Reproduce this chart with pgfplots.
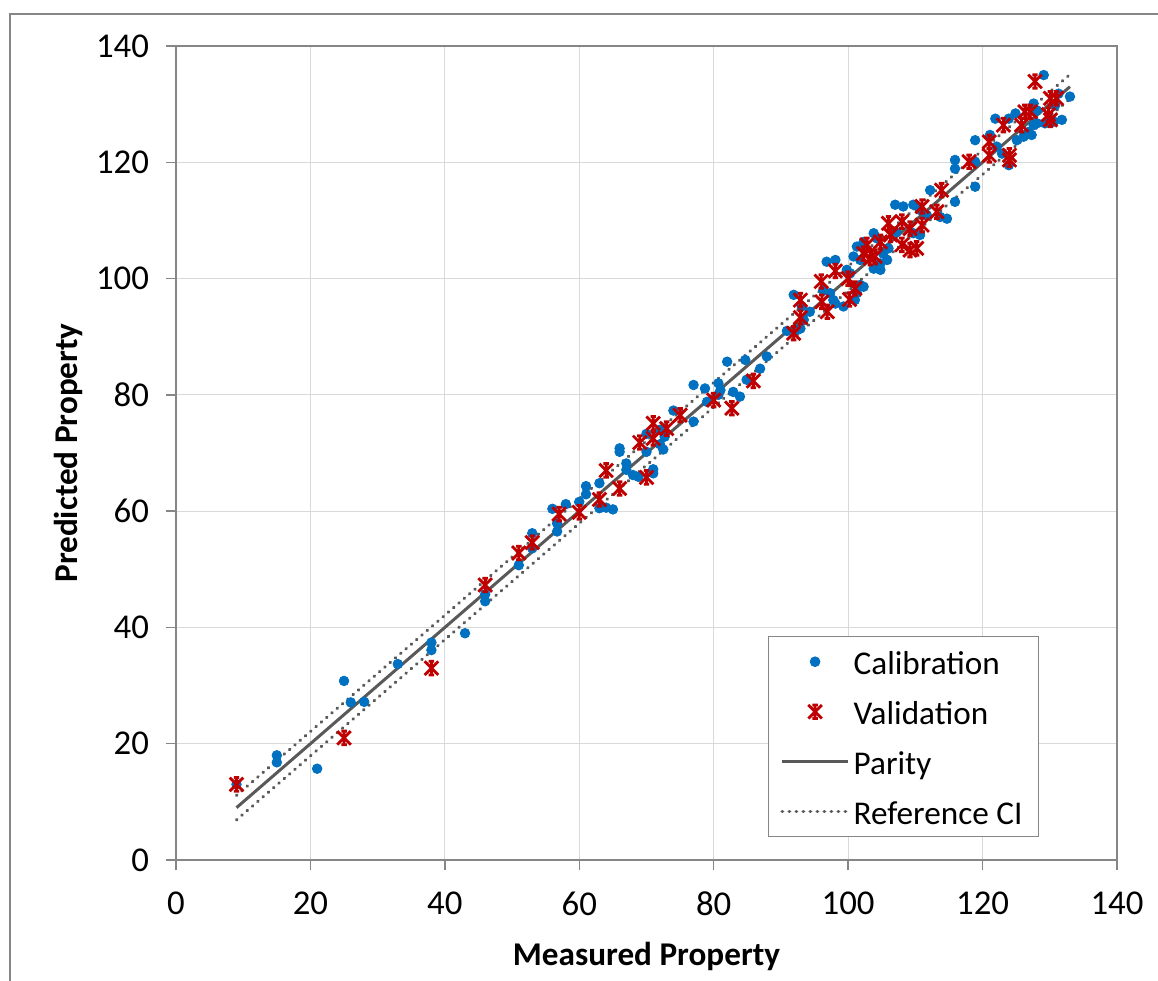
\documentclass[border=0pt]{standalone}
\usepackage{fontspec}
\setmainfont{Carlito}
\usepackage{pgfplots}
\pgfplotsset{compat=1.18}

\definecolor{calblue}{RGB}{0,112,192}
\definecolor{valred}{RGB}{192,0,0}
\definecolor{linegray}{RGB}{89,89,89}
\definecolor{gridgray}{RGB}{217,217,217}
\definecolor{axgray}{RGB}{134,134,134}

% Excel-like star marker: X with a vertical stroke and short caps
\pgfdeclareplotmark{xstar}{%
  \pgfpathmoveto{\pgfqpoint{-\pgfplotmarksize}{-\pgfplotmarksize}}%
  \pgfpathlineto{\pgfqpoint{\pgfplotmarksize}{\pgfplotmarksize}}%
  \pgfpathmoveto{\pgfqpoint{-\pgfplotmarksize}{\pgfplotmarksize}}%
  \pgfpathlineto{\pgfqpoint{\pgfplotmarksize}{-\pgfplotmarksize}}%
  \pgfpathmoveto{\pgfqpoint{0pt}{-\pgfplotmarksize}}%
  \pgfpathlineto{\pgfqpoint{0pt}{\pgfplotmarksize}}%
  \pgfpathmoveto{\pgfqpoint{-0.4\pgfplotmarksize}{\pgfplotmarksize}}%
  \pgfpathlineto{\pgfqpoint{0.4\pgfplotmarksize}{\pgfplotmarksize}}%
  \pgfpathmoveto{\pgfqpoint{-0.4\pgfplotmarksize}{-\pgfplotmarksize}}%
  \pgfpathlineto{\pgfqpoint{0.4\pgfplotmarksize}{-\pgfplotmarksize}}%
  \pgfusepathqstroke}

\newcommand{\chartfont}{\fontsize{16.6}{19.5}\selectfont}
\newcommand{\tickfont}{\fontsize{17.4}{20}\selectfont}

\begin{document}
\begin{tikzpicture}
\useasboundingbox (-88pt,-60.5pt) rectangle (491pt,430pt);
% chart area border (top and left only visible)
\draw[axgray, line width=1pt] (-83pt,-62pt) -- (-83pt,423pt) -- (492pt,423pt);

\begin{axis}[
  at={(0pt,0pt)}, anchor=south west,
  scale only axis, width=470.5pt, height=407pt,
  xmin=0, xmax=140, ymin=0, ymax=140,
  xtick={0,20,...,140}, ytick={0,20,...,140},
  grid=major,
  major grid style={gridgray, line width=0.5pt},
  axis line style={axgray, line width=0.75pt},
  tick align=outside, xtick pos=left, ytick pos=left,
  major tick length=5pt,
  tick style={axgray, line width=0.75pt},
  /pgf/number format/assume math mode=true,
  xticklabel={\pgfmathprintnumber{\tick}},
  yticklabel={\pgfmathprintnumber{\tick}},
  tick label style={font=\tickfont},
  xticklabel style={yshift=-7.5pt},
  yticklabel style={xshift=-5pt},
  label style={font=\chartfont\bfseries},
  xlabel={Measured Property},
  ylabel={Predicted Property},
  xlabel style={at={(axis description cs:0.5,-0.118)}, anchor=center},
  ylabel style={at={(axis description cs:-0.1148,0.5)}, anchor=center, rotate=0},
  legend style={at={(axis description cs:0.917,0.028)}, anchor=south east,
    draw=axgray, line width=0.5pt, font=\chartfont,
    inner xsep=6pt, inner ysep=0pt, row sep=0pt,
    nodes={inner ysep=0pt, text height=18.75pt, text depth=6.25pt}},
  legend cell align=left,
  legend image code/.code={\draw[mark repeat=2,mark phase=2,#1]
    plot coordinates {(0pt,0pt) (16.5pt,0pt) (33pt,0pt)};},
]

% Calibration
\addplot[only marks, mark=*, mark size=2.4pt, color=calblue] coordinates {
(9,13) (15,18.0) (15,16.8) (21,15.7) (25,30.8) (26,27.1) (28,27.2) (33,33.7)
(38,37.4) (38,36.1) (43,39.0) (46,45.7) (46,44.5) (51,50.7) (53,56.2) (53,53.6)
(56,60.4) (56.7,57.9) (56.7,56.5) (58,61.2) (60,61.6) (61,64.3) (61,62.9)
(63,64.8) (63,60.5) (64,60.6) (65,60.3) (66,70.8) (66,70.2) (67,68.2) (67,67.1)
(68,66.2) (68.8,65.9) (71,67.2) (71,66.5) (70,73.3) (70,70.2) (72,74) (72,71.5)
(72.5,70.6) (72.7,72.8) (74,77.3) (77,75.4) (77,81.7) (78.7,81.1) (79,78.8)
(80.7,82.0) (81,80.8) (80.7,80) (82,85.7) (84.7,86) (82.9,80.5) (83.9,79.7)
(84.9,82.6) (86.9,84.5) (87.9,86.6) (90.9,91.0) (92.4,91.2) (92.9,91.4)
(93.4,92.9) (94.3,94.3) (93.1,95.2) (91.9,97.2) (96.8,102.9) (98.1,103.2)
(97.3,97.5) (97.8,96.3) (98.1,95.7) (96.3,98.0) (100.3,100.9) (101.8,98.9)
(102.3,98.6) (101,96.3) (99.3,95.2) (101.3,97.5) (99.8,101.5) (100.8,103.8)
(101.8,103.2) (101.3,105.5) (102.3,106.3) (103.8,107.8) (104.3,106.9)
(104.8,102.6) (105.8,103.2) (105.2,104.3) (106,105.2) (103.8,101.7)
(104.8,101.5) (107,112.7) (108.2,112.4) (109.7,112.7) (110.7,111.8)
(111.7,110.9) (113.7,110.6) (114.7,110.3) (107.2,108) (109.7,107.8)
(110.7,107.5) (112.2,115.2) (115.9,113.2) (115.9,120.4) (115.9,118.9)
(118.9,120.1) (118.9,115.8) (118.9,123.8) (121.1,124.7) (122.1,122.7)
(122.9,121.5) (123.9,119.5) (121.9,127.5) (123.9,127.5) (124.9,128.4)
(125.1,123.8) (126.1,124.4) (126.8,125.2) (127.6,126.4) (128.1,126.7)
(129.1,135) (133,131.3) (131.8,127.3) (130.6,127) (129.3,126.7) (127.3,124.7)
(127.6,130.1) (128.1,128.9) (130.8,129.8) (131.3,131.8)
};
\addlegendentry{Calibration}

% Parity and reference CI lines
\addplot[forget plot, linegray, line width=1.5pt] coordinates {(9,9) (133,133)};
\addplot[forget plot, linegray, line width=1.6pt, line cap=round,
  dash pattern=on 0.3pt off 3.2pt] coordinates {(9,11.1) (133,135.1)};
\addplot[forget plot, linegray, line width=1.6pt, line cap=round,
  dash pattern=on 0.3pt off 3.2pt] coordinates {(9,6.9) (133,130.9)};

% Validation
\addplot[only marks, mark=xstar, mark size=3.4pt, color=valred,
  mark options={line width=1.4pt}] coordinates {
(9,13) (25,21) (38,33) (46,47.3) (51,52.8) (53,54.6) (57,59.5) (60,59.8)
(63,62) (64,67) (66,63.9) (70,65.8) (69,71.8) (71,75.1) (71,72.5) (73,74.2)
(75,76.5) (80,79.1) (82.7,77.7) (85.9,82.4) (91.9,90.6) (92.9,93.3)
(92.9,96.3) (96,99.5) (96.1,96) (96.9,94.3) (98.1,101.3) (100,100)
(100.2,96.4) (101,98.3) (103.3,103.5) (104,103.8) (102.8,105.8) (104.8,106.3)
(102.3,104.3) (108,105.8) (109.2,104.9) (110.2,105.2) (106,109.5) (108,109.8)
(109.2,108.6) (111,109.2) (106.3,107.5) (111,112.4) (113.2,111.5)
(113.9,115.2) (118,120.1) (121,123.5) (121,121.2) (123.1,126.4) (125.8,126.4)
(124,121.2) (124,120.4) (126.3,128.7) (127.1,128.7) (127.8,133.9) (130.1,131)
(131,131) (129.8,128.2) (130.1,127.3)
};
\addlegendentry{Validation}

\addlegendimage{linegray, line width=1.5pt}
\addlegendentry{Parity}
\addlegendimage{linegray, line width=1.6pt, line cap=round, dash pattern=on 0.3pt off 3.2pt}
\addlegendentry{Reference CI}
\end{axis}
\end{tikzpicture}
\end{document}
